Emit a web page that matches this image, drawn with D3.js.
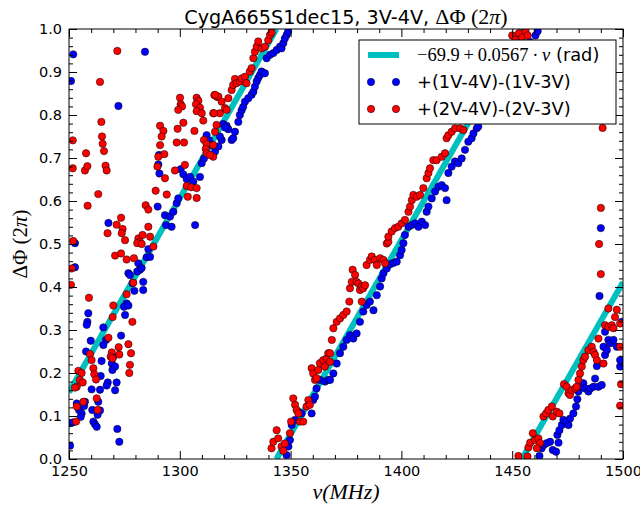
<!DOCTYPE html>
<html>
<head>
<meta charset="utf-8">
<script src="https://cdn.jsdelivr.net/npm/d3@7"></script>
<style>
  body { margin: 0; background: #fff; }
  text { font-family: "DejaVu Sans", sans-serif; fill: #000; }
  .math { font-family: "Liberation Serif", "DejaVu Serif", serif; }
</style>
</head>
<body>
<svg id="chart" width="640" height="506"></svg>
<script>
// phase differences (units of 2pi) vs frequency (MHz)
const bluePoints = [
  [1251.9,0.941],[1250.9,0.879],[1284.3,0.947],[1272.3,0.821],[1290.6,0.707],[1290.3,0.685],[1290.8,0.664],
  [1300.4,0.674],[1301.6,0.662],[1303.1,0.651],[1304.6,0.656],[1306.1,0.645],[1309.1,0.656],[1309.9,0.688],
  [1310.9,0.699],[1312.1,0.753],[1313.3,0.741],[1314.4,0.73],[1290.0,0.587],[1293.3,0.567],[1295.6,0.564],
  [1297.1,0.575],[1298.6,0.595],[1299.3,0.606],[1293.8,0.544],[1296.3,0.540],[1306.9,0.544],[1267.8,0.549],
  [1252.7,0.502],[1252.7,0.446],[1285.8,0.488],[1285.0,0.469],[1286.6,0.47],[1281.3,0.455],[1282.0,0.44],
  [1280.8,0.436],[1282.8,0.444],[1283.5,0.412],[1283.5,0.393],[1279.5,0.391],[1278.7,0.409],[1276.8,0.432],
  [1277.5,0.428],[1276.0,0.362],[1274.8,0.354],[1275.3,0.335],[1276.8,0.357],[1258.7,0.339],[1258.3,0.319],
  [1258.0,0.312],[1265.5,0.306],[1273.5,0.287],[1266.7,0.277],[1265.5,0.265],[1259.8,0.275],[1257.7,0.25],
  [1264.7,0.228],[1270.0,0.238],[1269.3,0.222],[1269.6,0.207],[1270.8,0.215],[1264.3,0.193],[1267.5,0.178],
  [1267.0,0.171],[1264.0,0.161],[1260.2,0.162],[1270.8,0.16],[1271.5,0.178],[1250.5,0.083],[1251.7,0.085],
  [1253.5,0.129],[1254.5,0.114],[1255.7,0.106],[1255.3,0.098],[1256.8,0.123],[1257.2,0.133],[1263.2,0.133],
  [1264.0,0.113],[1262.9,0.103],[1260.5,0.114],[1261.0,0.087],[1261.7,0.081],[1262.5,0.075],[1271.8,0.070],
  [1272.7,0.040],[1250.5,0.031],
  [1315.9,0.715],[1317.4,0.727],[1318.9,0.742],[1318.1,0.750],[1319.6,0.779],[1321.1,0.775],[1321.9,0.767],
  [1320.4,0.771],[1323.4,0.742],[1324.1,0.746],[1324.9,0.761],[1326.4,0.784],[1327.1,0.8],[1327.9,0.811],
  [1328.6,0.819],[1329.4,0.831],[1330.9,0.839],[1332.4,0.847],[1333.2,0.854],[1333.9,0.866],[1334.7,0.878],
  [1335.4,0.886],[1336.2,0.893],[1336.9,0.901],[1338.4,0.897],[1339.2,0.932],[1340.7,0.940],[1342.2,0.944],
  [1343.7,0.951],[1345.2,0.959],[1345.9,0.955],[1346.7,0.967],[1347.4,0.978],[1348.2,0.986],[1348.9,0.994],
  [1348.2,0.009],[1349.0,0.029],[1349.7,0.044],[1350.5,0.079],[1352.0,0.091],[1353.5,0.11],[1355.0,0.106],
  [1359.5,0.106],[1360.2,0.137],[1361.0,0.145],[1361.7,0.164],[1363.2,0.184],[1365.5,0.18],[1367.0,0.184],
  [1367.8,0.184],[1369.3,0.199],[1370.8,0.222],[1372.3,0.246],[1373.8,0.261],[1375.3,0.277],[1376.8,0.288],
  [1378.3,0.28],[1379.8,0.292],[1381.3,0.319],[1382.8,0.343],[1384.3,0.358],[1385.8,0.366],[1387.4,0.346],
  [1388.9,0.381],[1390.4,0.401],[1391.1,0.42],[1391.9,0.432],[1393.4,0.443],[1394.9,0.453],[1396.4,0.456],
  [1397.9,0.459],[1399.4,0.474],[1400.1,0.486],[1400.9,0.502],
  [1401.6,0.521],[1403.2,0.540],[1404.7,0.544],[1406.2,0.548],[1407.7,0.540],[1409.2,0.552],[1410.7,0.544],
  [1411.4,0.575],[1412.2,0.587],[1413.7,0.606],[1415.2,0.622],[1416.7,0.633],[1418.2,0.637],[1419.7,0.630],
  [1420.4,0.602],[1421.2,0.665],[1422.7,0.680],[1424.2,0.692],[1425.7,0.688],[1427.2,0.699],[1428.7,0.719],
  [1430.2,0.738],[1431.7,0.746],[1432.5,0.757],[1434.0,0.769],[1434.7,0.773],
  [1438,0.79],[1441,0.82],[1444,0.85],[1447,0.88],[1450,0.91],[1453,0.93],[1456,0.95],[1458,0.97],
  [1460.5,0.985],[1461.5,0.995],
  [1462.3,0.007],[1463.3,0.025],[1464.4,0.033],[1465.6,0.037],[1467.1,0.040],[1468.3,0.021],[1469.8,0.017],
  [1470.9,0.038],[1470.4,0.056],[1471.3,0.067],[1472.4,0.079],[1473.1,0.091],[1474.3,0.087],[1475.4,0.079],
  [1476.1,0.094],[1477.6,0.106],[1478.8,0.122],[1479.4,0.139],[1479.9,0.157],[1481.4,0.168],[1482.1,0.176],
  [1482.9,0.164],[1484.4,0.157],[1485.2,0.164],[1486.7,0.168],[1487.4,0.187],[1488.9,0.168],[1490.4,0.172],
  [1488.2,0.216],[1491.2,0.261],[1491.9,0.242],[1492.7,0.253],[1491.9,0.296],[1493.4,0.277],[1494.2,0.269],
  [1495.7,0.277],[1497.2,0.261],[1498.7,0.23],[1498.7,0.215],[1499.4,0.319],[1489.4,0.379],[1490.0,0.537]
];

const redPoints = [
  [1271.8,0.949],[1264.0,0.877],[1251.7,0.741],[1251.7,0.676],[1257.7,0.711],[1257.2,0.671],[1258.3,0.681],
  [1264.6,0.784],[1264.9,0.750],[1265.2,0.733],[1265.8,0.716],[1266.5,0.682],[1267.0,0.671],[1263.2,0.616],
  [1258.4,0.589],[1291.1,0.775],[1292.6,0.763],[1291.8,0.75],[1291.1,0.730],[1293.0,0.709],[1290.3,0.703],
  [1289.9,0.680],[1293.3,0.653],[1289.1,0.624],[1294.1,0.615],[1284.6,0.590],[1285.8,0.580],[1300.1,0.840],
  [1300.4,0.825],[1301.0,0.820],[1299.3,0.812],[1298.6,0.736],[1301.9,0.736],[1301.6,0.782],[1299.0,0.768],
  [1306.6,0.763],[1302.3,0.684],[1297.8,0.671],[1303.1,0.635],[1305.1,0.632],[1307.6,0.630],[1303.6,0.610],
  [1307.6,0.607],[1307.6,0.840],[1308.4,0.833],[1307.3,0.825],[1309.1,0.817],[1307.6,0.809],[1309.9,0.804],
  [1310.6,0.787],[1310.9,0.742],[1312.1,0.732],[1311.7,0.721],[1312.1,0.711],[1315.1,0.703],[1315.6,0.846],
  [1316.9,0.842],[1315.1,0.804],[1273.5,0.561],[1271.5,0.545],[1274.2,0.535],[1267.4,0.525],[1273.8,0.525],
  [1275.3,0.509],[1281.3,0.513],[1283.2,0.521],[1285.8,0.540],[1286.6,0.517],[1282.0,0.505],
  [1251.9,0.507],[1251.2,0.443],[1250.9,0.405],[1270.8,0.473],[1273.5,0.478],[1276.0,0.464],[1279.3,0.467],
  [1280.8,0.502],[1282.8,0.500],[1288.1,0.494],[1259.0,0.375],[1270.0,0.357],[1269.7,0.330],[1278.6,0.319],
  [1276.0,0.383],[1279.0,0.41],[1267.8,0.282],[1269.3,0.248],[1268.8,0.238],[1269.6,0.234],[1272.4,0.26],
  [1272.7,0.243],[1276.8,0.267],[1278.0,0.246],[1277.2,0.2],[1277.5,0.219],[1259.5,0.244],[1260.2,0.23],
  [1254.2,0.205],[1255.7,0.2],[1254.9,0.184],[1256.2,0.178],[1253.5,0.168],[1252.7,0.166],[1261.0,0.211],
  [1261.4,0.197],[1262.2,0.185],[1262.5,0.141],[1262.9,0.114],[1253.5,0.122],[1256.5,0.133],[1253.2,0.087],
  [1313.6,0.707],[1315.1,0.730],[1315.9,0.761],[1316.6,0.777],[1318.1,0.804],[1315.4,0.804],[1317.4,0.843],
  [1315.9,0.847],[1318.9,0.831],[1320.4,0.816],[1321.1,0.812],[1321.9,0.839],[1323.4,0.858],[1324.1,0.870],
  [1324.9,0.884],[1325.6,0.874],[1327.1,0.878],[1327.9,0.885],[1329.4,0.889],[1330.1,0.874],[1331.6,0.901],
  [1332.4,0.909],[1333.2,0.932],[1333.9,0.947],[1334.7,0.959],[1335.4,0.971],[1336.9,0.955],[1338.4,0.959],
  [1339.9,0.974],[1340.7,0.986],[1341.4,0.992],
  [1341.4,0.025],[1342.2,0.040],[1343.7,0.067],[1344.4,0.048],[1345.9,0.029],[1346.7,0.019],[1347.4,0.036],
  [1349.7,0.060],[1350.2,0.087],[1351.2,0.141],[1352.0,0.126],[1352.7,0.114],[1353.5,0.106],[1354.2,0.087],
  [1355.7,0.087],[1357.2,0.122],[1358.0,0.137],[1358.7,0.126],[1359.5,0.211],[1360.2,0.199],[1361.0,0.184],
  [1361.7,0.188],[1362.5,0.207],[1363.2,0.223],[1364.7,0.23],[1365.5,0.215],[1366.2,0.234],[1367.0,0.246],
  [1367.8,0.246],[1367.8,0.226],[1368.6,0.277],[1369.3,0.304],[1370.8,0.319],[1372.3,0.327],[1373.8,0.335],
  [1375.3,0.343],[1376.5,0.366],[1376.8,0.397],[1377.6,0.412],[1378.0,0.44],[1379.1,0.428],[1379.8,0.412],
  [1380.6,0.408],[1381.3,0.393],[1382.1,0.401],[1382.8,0.397],[1383.6,0.404],[1382.1,0.366],[1384.3,0.451],
  [1385.8,0.463],[1386.6,0.471],[1388.1,0.463],[1388.9,0.451],[1390.4,0.467],[1391.9,0.463],[1392.6,0.455],
  [1393.4,0.501],[1394.1,0.505],
  [1394.1,0.517],[1395.6,0.529],[1397.1,0.537],[1398.6,0.540],[1400.1,0.548],[1401.6,0.556],[1403.2,0.575],
  [1403.9,0.587],[1404.7,0.602],[1405.4,0.614],[1406.9,0.610],[1408.4,0.614],[1409.9,0.630],[1411.4,0.653],
  [1412.2,0.665],[1412.9,0.676],[1414.4,0.695],[1415.9,0.695],[1418.2,0.703],[1419.7,0.711],[1420.4,0.746],
  [1421.2,0.753],[1422.7,0.761],[1424.2,0.769],[1426.5,0.769],[1428.0,0.765],
  [1430,0.80],[1433,0.83],[1436,0.86],[1439,0.89],[1442,0.92],[1445,0.94],[1447,0.96],
  [1450,0.985],[1451.5,0.975],[1453,0.99],[1454.5,0.98],[1456,0.995],[1457,0.985],
  [1452.8,0.007],[1456.9,0.006],[1457.3,0.027],[1458.1,0.038],[1459.3,0.060],[1460.3,0.044],[1461.8,0.048],
  [1462.6,0.037],[1461.1,0.025],[1464.1,0.099],[1465.3,0.106],[1466.3,0.114],[1467.9,0.122],[1468.3,0.099],
  [1470.1,0.11],[1471.3,0.106],[1473.4,0.174],[1474.6,0.168],[1475.4,0.153],[1476.1,0.149],[1476.9,0.16],
  [1478.4,0.164],[1479.1,0.168],[1479.9,0.184],[1480.6,0.199],[1481.4,0.215],[1482.1,0.23],[1482.9,0.238],
  [1484.4,0.253],[1485.9,0.261],[1486.7,0.249],[1487.4,0.242],[1488.2,0.23],[1488.9,0.28],[1491.2,0.222],
  [1491.9,0.311],[1493.4,0.307],[1494.9,0.311],[1495.7,0.304],[1496.4,0.33],[1497.2,0.347],[1493.4,0.35],
  [1498.7,0.315],[1498.7,0.261],[1499.1,0.174],[1498.7,0.124],
  [1490.8,0.77],[1490.0,0.584],[1489.2,0.5],[1490.0,0.430]
];

// fit line -69.9 + 0.0567*nu (rad), wrapped into [0,1) turns: segment end points
const fitSegments = [
  [[1250, 0.155], [1343.6, 1.0]],
  [[1343.6, 0.0], [1454.4, 1.0]],
  [[1454.4, 0.0], [1500, 0.411]]
];

const xTicks = [1250, 1300, 1350, 1400, 1450, 1500];
const yTicks = [0, 0.1, 0.2, 0.3, 0.4, 0.5, 0.6, 0.7, 0.8, 0.9, 1.0];

const W = 640, H = 506;
const margin = {top: 29, right: 17, bottom: 47, left: 69};
const width = W - margin.left - margin.right;
const height = H - margin.top - margin.bottom;

const svg = d3.select("#chart");
const g = svg.append("g").attr("transform", `translate(${margin.left},${margin.top})`);

const x = d3.scaleLinear().domain([1250, 1500]).range([0, width]);
const y = d3.scaleLinear().domain([0, 1]).range([height, 0]);

svg.append("defs").append("clipPath").attr("id", "plotclip")
  .append("rect").attr("width", width).attr("height", height);

const plot = g.append("g").attr("clip-path", "url(#plotclip)");

const line = d3.line().x(d => x(d[0])).y(d => y(d[1]));
plot.selectAll(".fit")
  .data(fitSegments)
  .join("path")
    .attr("class", "fit")
    .attr("d", line)
    .attr("fill", "none")
    .attr("stroke", "#00bfbf")
    .attr("stroke-width", 6);

function dots(data, color) {
  plot.append("g")
    .selectAll("circle")
    .data(data)
    .join("circle")
      .attr("cx", d => x(d[0]))
      .attr("cy", d => y(d[1]))
      .attr("r", 3.7)
      .attr("fill", color)
      .attr("stroke", "#000")
      .attr("stroke-width", 0.5);
}
dots(bluePoints, "#0000ff");
dots(redPoints, "#ff0000");

// axes: ticks pointing inwards on all four sides
const xMinor = d3.range(1250, 1501, 10).filter(v => v % 50 !== 0);
const yMinor = d3.range(1, 50).filter(i => i % 5 !== 0).map(i => i / 50);

function tidy(sel) {
  sel.select(".domain").remove();
  sel.selectAll(".tick line").attr("stroke", "#000").attr("stroke-width", 1);
  sel.selectAll(".tick text").attr("font-family", "DejaVu Sans").attr("font-size", "14.5px").attr("fill", "#000");
}

g.append("g").attr("transform", `translate(0,${height})`)
  .call(d3.axisBottom(x).tickValues(xTicks).tickSizeInner(-8).tickSizeOuter(0).tickPadding(7).tickFormat(d3.format("d")))
  .call(tidy);
g.append("g").attr("transform", `translate(0,${height})`)
  .call(d3.axisBottom(x).tickValues(xMinor).tickSizeInner(-4).tickSizeOuter(0).tickFormat(""))
  .call(tidy);
g.append("g")
  .call(d3.axisTop(x).tickValues(xTicks).tickSizeInner(-8).tickSizeOuter(0).tickFormat(""))
  .call(tidy);
g.append("g")
  .call(d3.axisTop(x).tickValues(xMinor).tickSizeInner(-4).tickSizeOuter(0).tickFormat(""))
  .call(tidy);
g.append("g")
  .call(d3.axisLeft(y).tickValues(yTicks).tickSizeInner(-8).tickSizeOuter(0).tickPadding(7).tickFormat(d3.format(".1f")))
  .call(tidy);
g.append("g")
  .call(d3.axisLeft(y).tickValues(yMinor).tickSizeInner(-4).tickSizeOuter(0).tickFormat(""))
  .call(tidy);
g.append("g").attr("transform", `translate(${width},0)`)
  .call(d3.axisRight(y).tickValues(yTicks).tickSizeInner(-8).tickSizeOuter(0).tickFormat(""))
  .call(tidy);
g.append("g").attr("transform", `translate(${width},0)`)
  .call(d3.axisRight(y).tickValues(yMinor).tickSizeInner(-4).tickSizeOuter(0).tickFormat(""))
  .call(tidy);

g.append("rect")
  .attr("width", width).attr("height", height)
  .attr("fill", "none").attr("stroke", "#000").attr("stroke-width", 1);

// title
const title = svg.append("text")
  .attr("x", margin.left + width / 2).attr("y", 24)
  .attr("text-anchor", "middle").attr("font-size", "19.2px");
title.append("tspan").text("CygA665S1dec15, 3V-4V, ");
const tm = title.append("tspan").attr("class", "math").attr("font-size", "22px");
tm.append("tspan").text("ΔΦ (2");
tm.append("tspan").attr("font-style", "italic").text("π");
tm.append("tspan").text(")");

// axis labels
svg.append("text")
  .attr("class", "math")
  .attr("x", margin.left + width / 2).attr("y", 499)
  .attr("text-anchor", "middle").attr("font-size", "22px").attr("font-style", "italic")
  .text("ν(MHz)");

const yl = svg.append("text")
  .attr("class", "math")
  .attr("transform", `translate(27,${margin.top + height / 2}) rotate(-90)`)
  .attr("text-anchor", "middle").attr("font-size", "21px");
yl.append("tspan").text("ΔΦ (2");
yl.append("tspan").attr("font-style", "italic").text("π");
yl.append("tspan").text(")");

// legend
const lg = svg.append("g").attr("transform", "translate(359,40)");
lg.append("rect").attr("width", 257).attr("height", 84)
  .attr("fill", "#fff").attr("stroke", "#000").attr("stroke-width", 1);

lg.append("line").attr("x1", 9).attr("x2", 40).attr("y1", 15).attr("y2", 15)
  .attr("stroke", "#00bfbf").attr("stroke-width", 6);
const t1 = lg.append("text").attr("x", 58).attr("y", 21).attr("font-size", "17.8px");
const t1m = t1.append("tspan").attr("class", "math").attr("font-size", "18.5px");
t1m.append("tspan").text("\u221269.9\u2009+\u20090.0567\u2009\u00b7\u2009");
t1m.append("tspan").attr("font-style", "italic").text("ν");
t1.append("tspan").text(" (rad)");

const legendSeries = [
  {label: "+(1V-4V)-(1V-3V)", color: "#0000ff", y: 42},
  {label: "+(2V-4V)-(2V-3V)", color: "#ff0000", y: 69}
];
legendSeries.forEach(s => {
  [12, 37].forEach(cx => {
    lg.append("circle").attr("cx", cx).attr("cy", s.y).attr("r", 3.7)
      .attr("fill", s.color).attr("stroke", "#000").attr("stroke-width", 0.5);
  });
  lg.append("text").attr("x", 58).attr("y", s.y + 6).attr("font-size", "17.8px").text(s.label);
});
</script>
</body>
</html>
